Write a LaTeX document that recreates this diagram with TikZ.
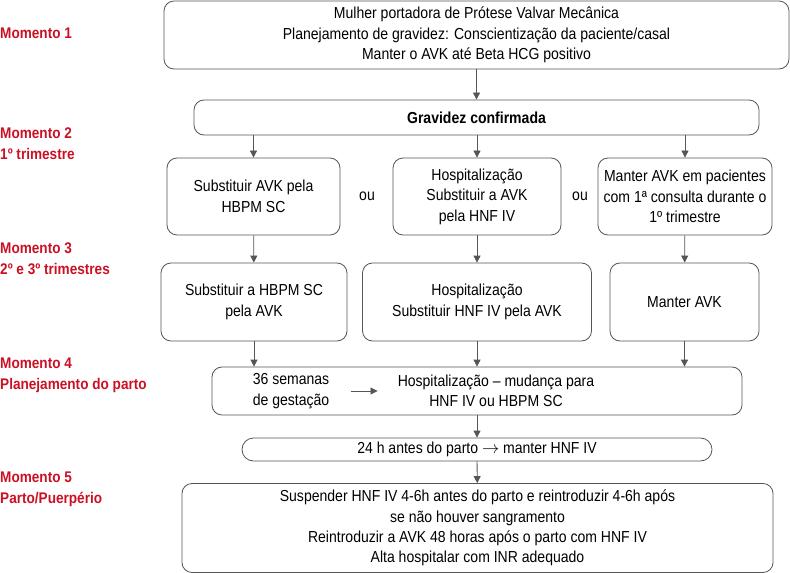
\documentclass[tikz,border=0pt]{standalone}
\usepackage{fontspec}
\setmainfont{Liberation Sans}[FakeStretch=0.88]
\usepackage{tikz}
\usetikzlibrary{arrows.meta, positioning, calc}
\definecolor{momentocolor}{RGB}{204,16,36}
\definecolor{linecolor}{RGB}{85,85,85}

\begin{document}
\begin{tikzpicture}[
    x=1bp, y=-1bp,
    box/.style={draw=linecolor, line width=0.8bp, rounded corners=10bp, minimum width=#1, align=center, inner sep=0pt, font=\fontsize{16}{20.5}\selectfont},
    momento/.style={anchor=west, align=left, inner sep=0pt, text=momentocolor, font=\fontsize{15.5}{21}\selectfont\bfseries},
    arrow/.style={-{Triangle[length=7bp, width=7bp]}, line width=0.8bp, draw=linecolor}
]
    \useasboundingbox (0,0) rectangle (790,573);

    % Momentos
    \node[momento] (m1) at (0,33) {Momento 1};
    \node[momento] (m2) at (0,143.5) {Momento 2\\1º trimestre};
    \node[momento] (m3) at (0,259) {Momento 3\\2º e 3º trimestres};
    \node[momento] (m4) at (0,375.5) {Momento 4\\Planejamento do parto};
    \node[momento] (m5) at (0,489.5) {Momento 5\\Parto/Puerpério};

    % Momento 1 e 2
    \node[box=625bp, minimum height=68bp] (inicio) at (476.5,35) {Mulher portadora de Prótese Valvar Mecânica\\Planejamento de gravidez: Conscientização da paciente/casal\\Manter o AVK até Beta HCG positivo};
    \node[box=565bp, minimum height=35bp, font=\fontsize{16}{20}\selectfont\bfseries] (gravidez) at (476.5,117.5) {Gravidez confirmada};

    \node[box=173bp, minimum height=77bp] (hbpm) at (253.5,196.5) {Substituir AVK pela\\HBPM SC};
    \node[box=168bp, minimum height=77bp] (hnf) at (477,196.5) {Hospitalização\\Substituir a AVK\\pela HNF IV};
    \node[box=174bp, minimum height=77bp] (avk) at (685,196.5) {Manter AVK em pacientes\\com 1ª consulta durante o\\1º trimestre};
    \node[font=\fontsize{16}{20}\selectfont] (ou1) at (367,196) {ou};
    \node[font=\fontsize{16}{20}\selectfont] (ou2) at (580,196) {ou};

    % Momento 3
    \node[box=186bp, minimum height=78bp] (hbpmavk) at (254,302) {Substituir a HBPM SC\\pela AVK};
    \node[box=229bp, minimum height=78bp] (hnfavk) at (477,302) {Hospitalização\\Substituir HNF IV pela AVK};
    \node[box=149bp, minimum height=78bp] (manter) at (684.5,302) {Manter AVK};

    % Momento 4
    \node[box=530bp, minimum height=48bp] (parto) at (477,391) {};
    \node[align=center, inner sep=2bp, font=\fontsize{16}{20.5}\selectfont] (semanas) at (291,391) {36 semanas\\de gestação};
    \node[align=center, inner sep=2bp, font=\fontsize{16}{20.5}\selectfont] (mudanca) at (496,391) {Hospitalização – mudança para\\HNF IV ou HBPM SC};
    \node[box=470bp, minimum height=23bp, rounded corners=11.5bp] (antes) at (477,449.5) {24 h antes do parto $\rightarrow$ manter HNF IV};

    % Momento 5
    \node[box=591bp, minimum height=89bp] (puerperio) at (477.5,528) {Suspender HNF IV 4-6h antes do parto e reintroduzir 4-6h após\\se não houver sangramento\\Reintroduzir a AVK 48 horas após o parto com HNF IV\\Alta hospitalar com INR adequado};

    \draw[arrow] (inicio.south) -- (inicio.south |- gravidez.north);
    \draw[arrow] (gravidez.south -| hbpm.north) -- (hbpm.north);
    \draw[arrow] (gravidez.south -| hnf.north) -- (hnf.north);
    \draw[arrow] (gravidez.south -| avk.north) -- (avk.north);
    \draw[arrow] (hbpm) -- (hbpmavk);
    \draw[arrow] (hnf) -- (hnfavk);
    \draw[arrow] (avk) -- (manter);
    \draw[arrow] (hbpmavk.south) -- (hbpmavk.south |- parto.north);
    \draw[arrow] (hnfavk.south) -- (hnfavk.south |- parto.north);
    \draw[arrow] (manter.south) -- (manter.south |- parto.north);
    \draw[arrow, shorten <=20bp, shorten >=18bp] (semanas) -- (semanas -| mudanca.west);
    \draw[arrow] (parto) -- (antes);
    \draw[arrow] (antes) -- (puerperio);
\end{tikzpicture}
\end{document}
